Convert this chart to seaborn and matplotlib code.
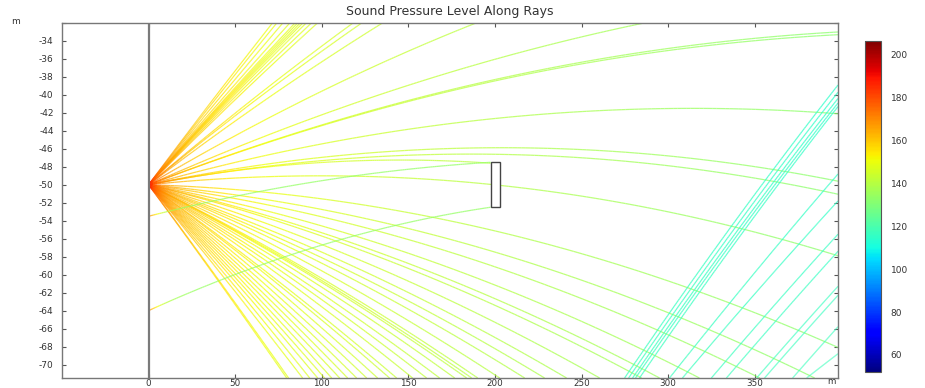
import numpy as np
import matplotlib
matplotlib.use("Agg")
import matplotlib.pyplot as plt
import seaborn as sns
from matplotlib.collections import LineCollection
from matplotlib.colors import Normalize
from matplotlib.cm import ScalarMappable
from matplotlib.patches import Rectangle

sns.set_theme(style="ticks")
plt.rcParams["font.family"] = ["DejaVu Sans"]
plt.rcParams["axes.unicode_minus"] = False

# frame and objects (m)
X_LIM = (-50.0, 398.0)
Y_LIM = (-71.5, -32.0)
SOURCE = (0.0, -50.0)
BOX_X = (197.4, 202.6)
BOX_Y = (-52.5, -47.5)

# rays from the source: exit point on the frame + downward bending
TOP_EXIT_X = [71.5, 74, 77.5, 81.5, 84.5, 86, 87.5, 89, 91, 94, 97.5,
              118, 123, 135, 189, 286]
TOP_CURV = [1.0e-4] * 15 + [8.0e-5]
RIGHT_EXIT_Y = [-33.0, -33.3, -42.1, -49.6, -51.05, -57.9, -68.1]
RIGHT_CURV = [8.0e-5, 8.0e-5, 8.6e-5, 9.9e-5, 9.9e-5, 1.0e-4, 1.0e-4]
BOTTOM_EXIT_X = [79.7, 80.8, 88.9, 93, 97.6, 101.6, 105.7, 110.3, 114.9,
                 120.1, 125.9, 132.2, 139.1, 143.2, 152.4, 160.5, 168,
                 176.7, 183.6, 186.5, 190, 202.7, 217.1, 228.6, 241.3,
                 260.4, 284.6, 295, 318, 352.8, 384.5]
BOTTOM_CURV = 1.0e-4
BOX_RAY_END = (197.4, -47.6)
BOX_RAY_CURV = 1.3e-4

# rays leaving the wall toward the box
WALL_START_Y = [-53.5, -64.0]
WALL_END_Y = [-47.5, -52.5]
WALL_CURV = [9.4e-5, 1.5e-4]

# bottom-reflected rays (start x on bottom edge, exit y on right edge)
REFL_START_X = [274.8, 277.1, 279.4, 281.1, 283.4,
                300.7, 308.2, 324.9, 333.6, 351.0, 355.6, 371.8, 379.9]
REFL_END_Y = [-38.9, -39.7, -40.4, -40.9, -41.3,
              -48.8, -51.8, -55.5, -57.4, -61.3, -62.3, -65.8, -68.8]
REFL_CURV = [1.5e-4] * 5 + [1.0e-4] * 8
REFL_LEVEL = 117.0

# sound pressure level along rays
SRC_LEVEL = 188.0
ABSORB = 0.01
CMAP_RANGE = (52.0, 206.5)
CBAR_TICKS = [60, 80, 100, 120, 140, 160, 180, 200]


def ray_path(x0, y0, x1, y1, c, n=160):
    s = (y1 - y0 + c * (x1 - x0) ** 2) / (x1 - x0)
    x = np.linspace(x0, x1, n)
    y = y0 + s * (x - x0) - c * (x - x0) ** 2
    return x, y


def arc_length(x, y):
    d = np.hypot(np.diff(x), np.diff(y))
    return np.concatenate([[0], np.cumsum(d)])


segs, vals = [], []


def add_ray(x, y, level):
    pts = np.column_stack([x, y])
    segs.extend(np.stack([pts[:-1], pts[1:]], axis=1))
    vals.extend(0.5 * (level[:-1] + level[1:]))


def source_level(x, y):
    r = arc_length(x, y)
    return SRC_LEVEL - 20 * np.log10(np.maximum(r, 1.0)) - ABSORB * r


x0, y0 = SOURCE
for xe, c in zip(TOP_EXIT_X, TOP_CURV):
    x, y = ray_path(x0, y0, xe, Y_LIM[1], c)
    add_ray(x, y, source_level(x, y))
for ye, c in zip(RIGHT_EXIT_Y, RIGHT_CURV):
    x, y = ray_path(x0, y0, X_LIM[1], ye, c)
    add_ray(x, y, source_level(x, y))
for xe in BOTTOM_EXIT_X:
    x, y = ray_path(x0, y0, xe, Y_LIM[0], BOTTOM_CURV)
    add_ray(x, y, source_level(x, y))
x, y = ray_path(x0, y0, BOX_RAY_END[0], BOX_RAY_END[1], BOX_RAY_CURV)
add_ray(x, y, source_level(x, y))

for ys, ye, c in zip(WALL_START_Y, WALL_END_Y, WALL_CURV):
    x, y = ray_path(0.0, ys, BOX_X[0], ye, c)
    r = arc_length(x, y)
    add_ray(x, y, 134 + 40 * np.exp(-r / 6.0))

for xs, ye, c in zip(REFL_START_X, REFL_END_Y, REFL_CURV):
    x, y = ray_path(xs, Y_LIM[0], X_LIM[1], ye, c)
    r = arc_length(x, y)
    add_ray(x, y, REFL_LEVEL - 0.02 * r)

norm = Normalize(*CMAP_RANGE)
cmap = plt.get_cmap("jet")

fig = plt.figure(figsize=(9.25, 3.88), dpi=100)
ax = fig.add_axes([62 / 925, 10 / 388, 776 / 925, 355 / 388])
cax = fig.add_axes([865 / 925, 16 / 388, 16 / 925, 331 / 388])

lc = LineCollection(segs, cmap=cmap, norm=norm, linewidths=0.9, alpha=0.75)
lc.set_array(np.array(vals))
ax.add_collection(lc)

sns.lineplot(x=[0, 0], y=list(Y_LIM), ax=ax, color="#7a7a7a", lw=1.6,
             estimator=None, sort=False)
ax.add_patch(Rectangle((BOX_X[0], BOX_Y[0]), BOX_X[1] - BOX_X[0],
                       BOX_Y[1] - BOX_Y[0], facecolor="white",
                       edgecolor="#444444", lw=1.0, zorder=5))

ax.set_xlim(*X_LIM)
ax.set_ylim(*Y_LIM)
ax.set_xticks(np.arange(0, 351, 50))
ax.set_yticks(np.arange(-70, -31, 2))
ax.set_yticklabels([str(v) for v in range(-70, -33, 2)] + [""])
ax.tick_params(direction="in", length=3, width=0.8, colors="#555555",
               labelcolor="#333333", labelsize=6.5, top=True, right=True)
ax.tick_params(axis="x", pad=0.5, labelsize=6.3)
ax.tick_params(axis="y", pad=6)
for sp in ax.spines.values():
    sp.set_color("#777777")
    sp.set_linewidth(1.0)
ax.set_xlabel("")
ax.set_ylabel("")

sm = ScalarMappable(norm=norm, cmap=cmap)
cb = fig.colorbar(sm, cax=cax, ticks=CBAR_TICKS)
cb.outline.set_edgecolor("#555555")
cb.outline.set_linewidth(0.8)
cax.tick_params(direction="in", length=2.5, width=0.6, colors="#555555",
                labelcolor="#333333", labelsize=6.5, pad=7)

fig.text(450 / 925, 1 - 12 / 388, "Sound Pressure Level Along Rays",
         ha="center", va="center", fontsize=9, color="#333333")
fig.text(15 / 925, 1 - 21 / 388, "m", ha="center", va="center",
         fontsize=6.5, color="#333333")
fig.text(831 / 925, 1 - 382 / 388, "m", ha="center", va="center",
         fontsize=6.3, color="#333333")

fig.savefig("out.png", dpi=100)
